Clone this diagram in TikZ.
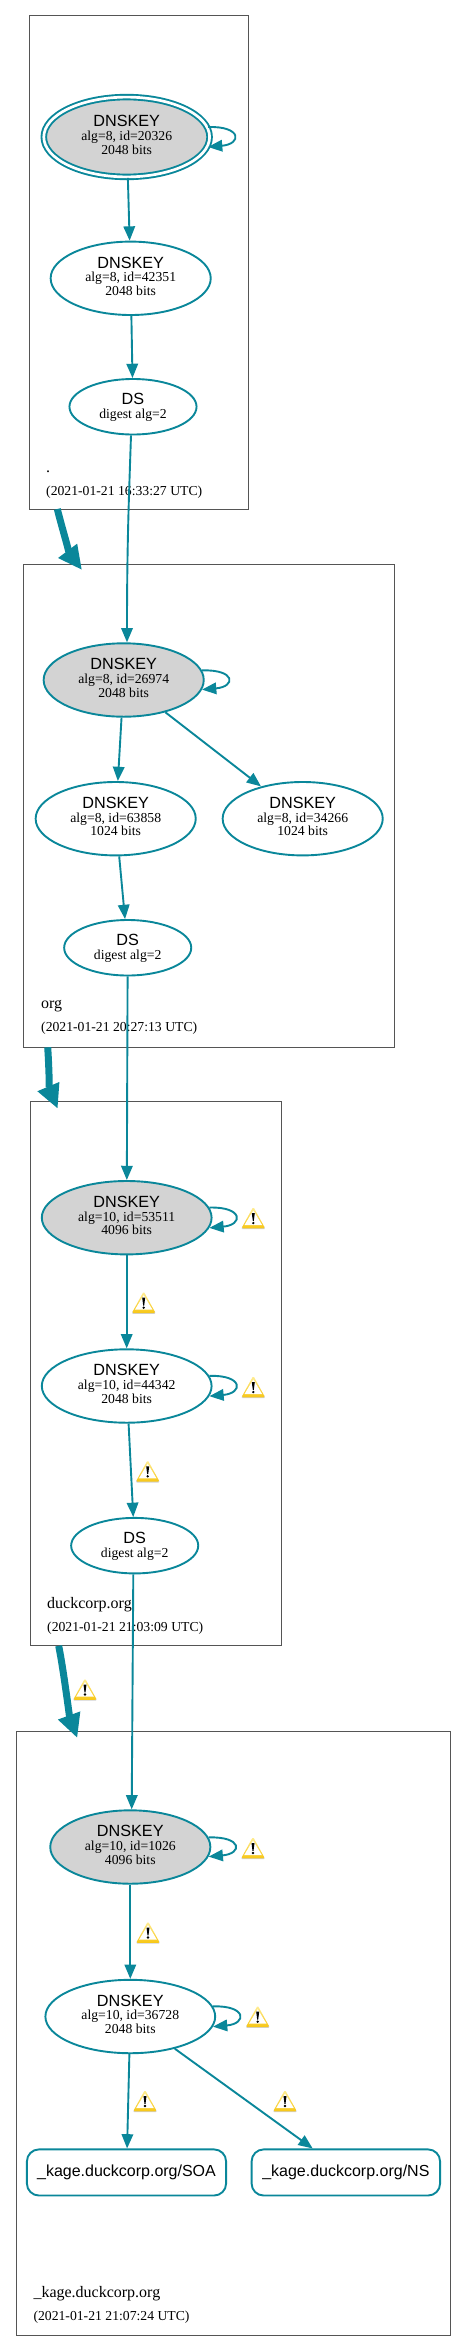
\documentclass[tikz,border=0pt]{standalone}
\usepackage{xcolor}
\usepackage{fontspec}
\setmainfont{Liberation Serif}
\setsansfont{Liberation Sans}
\usepackage{tikz}
\usetikzlibrary{positioning,shapes.geometric,arrows.meta}

\definecolor{edgeteal}{HTML}{0A879A}
\definecolor{boxgray}{HTML}{555555}
\definecolor{keygray}{HTML}{D3D3D3}
\definecolor{warnlight}{HTML}{FFEE99}
\definecolor{warndark}{HTML}{F7C614}
\newcommand{\keyname}{\sffamily\fontsize{16.2}{13.6}\selectfont}

\tikzset{
  keynode/.style={draw=edgeteal, line width=1.9pt, ellipse, inner sep=0pt, minimum width=160.1pt, minimum height=73.4pt, align=center, text depth=4.4pt, font=\fontsize{13.7}{13.6}\selectfont},
  widekey/.style={keynode, minimum width=169.8pt},
  signkey/.style={keynode, fill=keygray},
  dsnode/.style={keynode, minimum width=127.1pt, minimum height=55.5pt, text depth=2pt},
  rrsetnode/.style={draw=edgeteal, line width=1.9pt, rounded corners=12pt, inner sep=0pt, minimum height=46.1pt, font=\sffamily\fontsize{16}{18}\selectfont},
  zonebox/.style={draw=boxgray, line width=1pt, anchor=north west, outer sep=0pt, inner sep=0pt},
  zonename/.style={anchor=base west, inner sep=0pt, font=\fontsize{16}{18}\selectfont},
  zonedate/.style={anchor=base west, inner sep=0pt, font=\fontsize{13.7}{16}\selectfont},
  edge/.style={draw=edgeteal, line width=1.9pt},
  zoneedge/.style={draw=edgeteal, line width=7pt, -{Triangle[length=24pt,width=22pt,fill=edgeteal]}},
  warnicon/.pic={
    \fill[black!18, rounded corners=1pt] (-11.8,11.2) -- (11.8,11.2) -- (11,8) -- (-11,8) -- cycle;
    \shade[top color=warnlight, bottom color=warndark, rounded corners=1.5pt] (0,-11.3) -- (11.9,10.4) -- (-11.9,10.4) -- cycle;
    \fill[white] (0,-7.5) -- (8.8,7) -- (-8.8,7) -- cycle;
    \fill[black] (-1.5,-5) -- (1.5,-5) -- (.5,2.8) -- (-.5,2.8) -- cycle;
    \fill[black] (0,5) circle (1.3);
  }
}

\begin{document}
\begin{tikzpicture}[x=1pt, y=-1pt, >={Triangle[length=14.3pt,width=11.5pt]}]
  \useasboundingbox (0,0) rectangle (467,2350);

  % zone boxes
  \node[zonebox, minimum width=218.7pt, minimum height=493.3pt] (rootzone) at (29.3,15.7) {};
  \node[zonebox, minimum width=371pt, minimum height=483.3pt] (orgzone) at (23.7,564) {};
  \node[zonebox, minimum width=251.2pt, minimum height=544.5pt] (duckzone) at (30.3,1101.3) {};
  \node[zonebox, minimum width=434pt, minimum height=603.4pt] (kagezone) at (16,1731.6) {};

  \node[zonename] (rootname) at (46,472) {.};
  \node[zonedate] (rootdate) at (46,495) {(2021-01-21 16:33:27 UTC)};
  \node[zonename] (orgname) at (41,1008.3) {org};
  \node[zonedate] (orgdate) at (41,1031.7) {(2021-01-21 20:27:13 UTC)};
  \node[zonename] (duckname) at (47,1608) {duckcorp.org};
  \node[zonedate] (duckdate) at (47,1631) {(2021-01-21 21:03:09 UTC)};
  \node[zonename] (kagename) at (33.3,2297.6) {\_kage.duckcorp.org};
  \node[zonedate] (kagedate) at (33.3,2320) {(2021-01-21 21:07:24 UTC)};

  % root
  \node[signkey, double=white, double distance=2.7pt, minimum width=165.8pt, minimum height=79.8pt] (rootksk) at (126.7,137) {{\keyname DNSKEY}\\alg=8, id=20326\\2048 bits};
  \node[keynode, below=62.8pt of rootksk, xshift=4pt] (rootzsk) {{\keyname DNSKEY}\\alg=8, id=42351\\2048 bits};
  \node[dsnode, below=62.1pt of rootzsk, xshift=2.3pt] (rootds) {{\keyname DS}\\digest alg=2};

  % org
  \node[signkey] (orgksk) at (123.7,680) {{\keyname DNSKEY}\\alg=8, id=26974\\2048 bits};
  \node[keynode, below=63.4pt of orgksk, xshift=-8pt] (orgzsk) {{\keyname DNSKEY}\\alg=8, id=63858\\1024 bits};
  \node[keynode, right=25pt of orgzsk] (orgzsktwo) {{\keyname DNSKEY}\\alg=8, id=34266\\1024 bits};
  \node[dsnode, below=62.7pt of orgzsk, xshift=12pt] (orgds) {{\keyname DS}\\digest alg=2};

  % duckcorp.org
  \node[signkey, minimum width=169.8pt] (duckksk) at (126.7,1217.7) {{\keyname DNSKEY}\\alg=10, id=53511\\4096 bits};
  \node[widekey, below=93pt of duckksk] (duckzsk) {{\keyname DNSKEY}\\alg=10, id=44342\\2048 bits};
  \node[dsnode, below=93.3pt of duckzsk, xshift=8pt] (duckds) {{\keyname DS}\\digest alg=2};

  % _kage.duckcorp.org
  \node[signkey] (kageksk) at (130.3,1847) {{\keyname DNSKEY}\\alg=10, id=1026\\4096 bits};
  \node[widekey, below=94.2pt of kageksk] (kagezsk) {{\keyname DNSKEY}\\alg=10, id=36728\\2048 bits};
  \node[rrsetnode, minimum width=199.2pt, below=94.3pt of kagezsk, xshift=-3.8pt] (kagesoa) {\_kage.duckcorp.org/SOA};
  \node[rrsetnode, minimum width=188.5pt, right=23.6pt of kagesoa] (kagens) {\_kage.duckcorp.org/NS};

  % edges inside and across the zones
  \draw[edge, ->] (rootksk) -- (rootzsk);
  \draw[edge, ->] (rootzsk) -- (rootds);
  \draw[edge, ->] ([xshift=-2pt]rootds.south) .. controls +(-2,60) and +(0,-100) .. ([xshift=3.3pt]orgksk.north);
  \draw[edge, ->] (orgksk) -- (orgzsk);
  \draw[edge, ->] (orgksk) -- (orgzsktwo);
  \draw[edge, ->] (orgzsk) -- (orgds);
  \draw[edge, ->] (orgds) -- (duckksk);
  \draw[edge, ->] (duckksk) -- (duckzsk);
  \draw[edge, ->] (duckzsk) -- (duckds);
  \draw[edge, ->] ([xshift=-1.4pt]duckds.south) -- ([xshift=1.4pt]kageksk.north);
  \draw[edge, ->] (kageksk) -- (kagezsk);
  \draw[edge, ->] (kagezsk) -- (kagesoa);
  \draw[edge, ->] (kagezsk) -- (kagens);

  % self loops
  \draw[edge, ->] (rootksk.7) .. controls +(34,-1) and +(34,-3) .. (rootksk.-7);
  \draw[edge, ->] (orgksk.7) .. controls +(34,-1) and +(34,-3) .. (orgksk.-7);
  \draw[edge, ->] (duckksk.7) .. controls +(34,-1) and +(34,-3) .. (duckksk.-7);
  \draw[edge, ->] (duckzsk.7) .. controls +(34,-1) and +(34,-3) .. (duckzsk.-7);
  \draw[edge, ->] (kageksk.7) .. controls +(34,-1) and +(34,-3) .. (kageksk.-7);
  \draw[edge, ->] (kagezsk.7) .. controls +(34,-1) and +(34,-3) .. (kagezsk.-7);

  % delegations
  \draw[zoneedge] ([xshift=28pt]rootzone.south west) .. controls +(5,20) and +(-12,-16) .. ([xshift=58.3pt,yshift=-6pt]orgzone.north west);
  \draw[zoneedge] ([xshift=24pt]orgzone.south west) .. controls +(1,14) and +(-8,-19) .. ([xshift=27.4pt,yshift=-7.4pt]duckzone.north west);
  \draw[zoneedge] ([xshift=28.4pt]duckzone.south west) .. controls +(5,25) and +(-8,-22) .. ([xshift=61.3pt,yshift=-6.4pt]kagezone.north west);

  % warnings
  \pic (warnduckksk) at (253.3,1218) {warnicon};
  \pic (warnducklink) at (143.7,1302.7) {warnicon};
  \pic (warnduckzsk) at (253.3,1387) {warnicon};
  \pic (warnduckds) at (147.7,1471.3) {warnicon};
  \pic (warndeleg) at (85,1689.5) {warnicon};
  \pic (warnkageksk) at (253,1848) {warnicon};
  \pic (warnkagelink) at (148,1932.5) {warnicon};
  \pic (warnkagezsk) at (257.7,2016.7) {warnicon};
  \pic (warnsoa) at (145,2101) {warnicon};
  \pic (warnns) at (285,2101) {warnicon};
\end{tikzpicture}
\end{document}
